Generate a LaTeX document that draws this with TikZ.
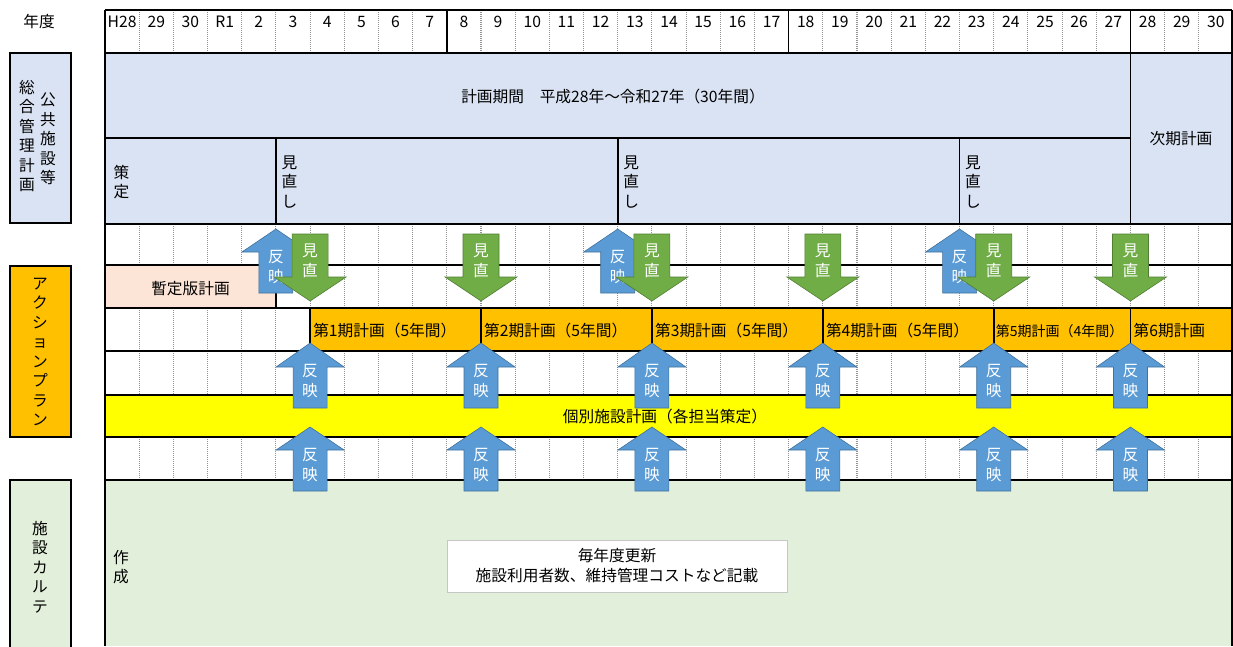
\documentclass[tikz,border=0pt]{standalone}
\usepackage{fontspec}
\setmainfont{Noto Sans CJK JP}
\definecolor{bandblue}{HTML}{DAE3F3}
\definecolor{pinkc}{HTML}{FCE4D6}
\definecolor{orangec}{HTML}{FFC000}
\definecolor{yellowc}{HTML}{FFFF00}
\definecolor{greenc}{HTML}{E2EFDA}
\definecolor{arrblue}{HTML}{5B9BD5}
\definecolor{arrblueb}{HTML}{41719C}
\definecolor{arrgreen}{HTML}{70AD47}
\definecolor{arrgreenb}{HTML}{507E32}
\tikzset{
  bl/.style={line width=1.6pt, black},
  gridl/.style={gray!85, line width=1.1pt, dash pattern=on 1pt off 1pt},
  txt/.style={font=\fontsize{15.7}{19.5}\selectfont, inner sep=0pt, align=center},
  smtxt/.style={font=\fontsize{14}{17}\selectfont, inner sep=0pt},
  arrtxt/.style={txt, text=white},
  bluea/.style={fill=arrblue, draw=arrblueb, line width=0.6pt},
  greena/.style={fill=arrgreen, draw=arrgreenb, line width=0.6pt},
}
\newcommand{\bluarr}[5]{%
  \filldraw[bluea] (#2,#3) -- ({#2+34},#4) -- ({#2+17},#4) -- ({#2+17},#5) -- ({#2-17},#5) -- ({#2-17},#4) -- ({#2-34},#4) -- cycle;
  \node[arrtxt] (#1) at (#2,{#3+38}) {反\\映};
}
\newcommand{\grnarr}[5]{%
  \filldraw[greena] ({#2-18},#3) -- ({#2+18},#3) -- ({#2+18},#4) -- ({#2+36},#4) -- (#2,#5) -- ({#2-36},#4) -- ({#2-18},#4) -- cycle;
  \node[arrtxt] (#1) at (#2,{#3+27}) {見\\直};
}
\begin{document}
\begin{tikzpicture}[x=1pt,y=-1pt]
\useasboundingbox (0,0) rectangle (1233,646);
\def\cw{34.1818}
% fills
\fill[bandblue] (105,53) rectangle (1232,224);
\fill[pinkc] (105,265) rectangle (276,308);
\fill[orangec] (310.1,308) rectangle (1232,351);
\fill[yellowc] (105,395) rectangle (1232,437);
\fill[greenc] (105,480) rectangle (1232,646);
% left boxes
\draw[bl, fill=bandblue] (10,53) rectangle (71,223);
\draw[bl, fill=orangec] (10,266) rectangle (71,437);
\draw[bl, fill=greenc] (10,480) rectangle (71,660);
% dotted grid lines
\foreach \i in {1,...,32} {
  \draw[gridl] ({105+\i*\cw},10) -- ({105+\i*\cw},53);
  \draw[gridl] ({105+\i*\cw},224) -- ({105+\i*\cw},265);
  \draw[gridl] ({105+\i*\cw},351) -- ({105+\i*\cw},395);
  \draw[gridl] ({105+\i*\cw},437) -- ({105+\i*\cw},480);
}
\foreach \i in {5,...,32} {
  \draw[gridl] ({105+\i*\cw},265) -- ({105+\i*\cw},308);
}
\foreach \i in {1,...,5} {
  \draw[gridl] ({105+\i*\cw},308) -- ({105+\i*\cw},351);
}
% black lines
\foreach \yy in {10,53,224,265,308,351,395,437,480} {
  \draw[bl] (105,\yy) -- (1232,\yy);
}
\draw[bl] (105,138) -- (1131,138);
\draw[bl] (105,10) -- (105,646);
\draw[bl] (1232,10) -- (1232,646);
\foreach \i in {10,20,30} {
  \draw[bl] ({105+\i*\cw},10) -- ({105+\i*\cw},53);
}
\draw[bl] ({105+30*\cw},53) -- ({105+30*\cw},224);
\foreach \i in {5,15,25} {
  \draw[bl] ({105+\i*\cw},138) -- ({105+\i*\cw},224);
}
\draw[bl] ({105+5*\cw},265) -- ({105+5*\cw},308);
\foreach \i in {6,11,16,21,26,30} {
  \draw[bl] ({105+\i*\cw},308) -- ({105+\i*\cw},351);
}
% header texts
\node[txt] (nendo) at (39,22) {年度};
\foreach \lab [count=\i from 0] in {H28,29,30,R1,2,3,4,5,6,7,8,9,10,11,12,13,14,15,16,17,18,19,20,21,22,23,24,25,26,27,28,29,30} {
  \node[txt] (h\i) at ({105+(\i+0.5)*\cw},22) {\lab};
}
% left labels
\node[txt] (sogo) at (27,136) {総\\合\\管\\理\\計\\画};
\node[txt] (koky) at (48,139) {公\\共\\施\\設\\等};
\node[txt] (ap) at (40,352) {ア\\ク\\シ\\ョ\\ン\\プ\\ラ\\ン};
\node[txt] (karte) at (40,567) {施\\設\\カ\\ル\\テ};
% plan band texts
\node[txt] (period) at (613,97) {計画期間　平成28年～令和27年（30年間）};
\node[txt] (next) at (1181,139) {次期計画};
\node[txt] (sakutei) at (121.5,182) {策\\定};
\node[txt] (mn1) at ({105+5*\cw+13.5},182) {見\\直\\し};
\node[txt] (mn2) at ({105+15*\cw+13.5},182) {見\\直\\し};
\node[txt] (mn3) at ({105+25*\cw+13.5},182) {見\\直\\し};
% action plan texts
\node[txt] (zantei) at (190.5,289) {暫定版計画};
\node[txt, anchor=west] (p1) at ({105+6*\cw+3},331) {第1期計画（5年間）};
\node[txt, anchor=west] (p2) at ({105+11*\cw+3},331) {第2期計画（5年間）};
\node[txt, anchor=west] (p3) at ({105+16*\cw+3},331) {第3期計画（5年間）};
\node[txt, anchor=west] (p4) at ({105+21*\cw+3},331) {第4期計画（5年間）};
\node[smtxt, anchor=west] (p5) at ({105+26*\cw+2},331) {第5期計画（4年間）};
\node[txt, anchor=west] (p6) at ({105+30*\cw+3},331) {第6期計画};
\node[txt] (kobetsu) at (665,417) {個別施設計画（各担当策定）};
% karte texts
\node[txt] (sakusei) at (121,567) {作\\成};
\node[txt, draw=gray!45, line width=0.8pt, fill=white, minimum width=340pt, minimum height=52pt, font=\fontsize{15.7}{20}\selectfont] (note) at (617,566) {毎年度更新\\施設利用者数、維持管理コストなど記載};
% arrows: top blue
\foreach \k [count=\n] in {5,15,25} {
  \pgfmathsetmacro\xx{105+\k*\cw}
  \bluarr{bt\n}{\xx}{229}{252}{293}
}
% green arrows
\foreach \k [count=\n] in {6,11,16,21,26,30} {
  \pgfmathsetmacro\xx{105+\k*\cw}
  \grnarr{g\n}{\xx}{234}{277}{301}
}
% middle and lower blue
\foreach \k [count=\n] in {6,11,16,21,26,30} {
  \pgfmathsetmacro\xx{105+\k*\cw}
  \bluarr{bm\n}{\xx}{343}{367}{408}
  \bluarr{bb\n}{\xx}{427}{450}{491}
}
\end{tikzpicture}
\end{document}
